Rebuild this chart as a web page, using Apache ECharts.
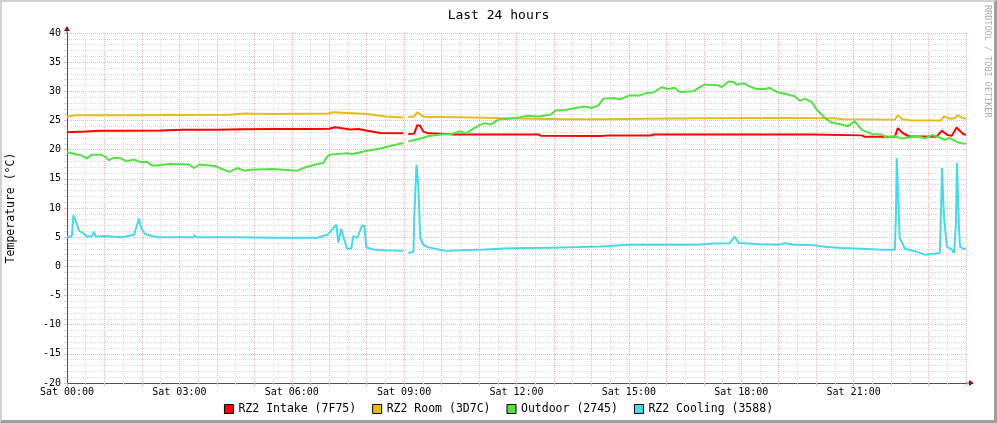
<!DOCTYPE html>
<html>
<head>
<meta charset="utf-8">
<script src="https://cdn.jsdelivr.net/npm/echarts@6/dist/echarts.min.js"></script>
<style>
html,body{margin:0;padding:0;background:#fff;}
#wrap{position:relative;width:997px;height:423px;}
#chart{position:absolute;left:0;top:0;width:997px;height:423px;}
#frame{position:absolute;left:0;top:0;width:997px;height:423px;box-sizing:border-box;
  border-top:2px solid #d2d2d2;border-left:2px solid #d2d2d2;border-right:3px solid #9e9e9e;border-bottom:3px solid #9e9e9e;pointer-events:none;}
</style>
</head>
<body>
<div id="wrap"><div id="chart"></div><div id="frame"></div></div>
<script>
// ---- data (hour of day, value in °C) ----
const seriesNames = ['RZ2 Intake (7F75)', 'RZ2 Room (3D7C)', 'Outdoor (2745)', 'RZ2 Cooling (3588)'];
const seriesColors = ['#FF0000', '#E8BA1E', '#55E044', '#48D8E8'];
const yTicks = { min: -20, max: 40, step: 5 };
const xHours = { min: 0, max: 24, labelEvery: 3 };
const dayLabel = 'Sat';
const yAxisTitle = 'Temperature (°C)';

const intake = [[0,23.0],[0.5,23.1],[0.9,23.25],[1.5,23.25],[2.5,23.3],[3.1,23.4],[4.0,23.4],[4.7,23.5],[5.5,23.55],[6.5,23.55],[7.0,23.6],[7.16,23.85],[7.3,23.7],[7.56,23.45],[7.78,23.55],[8.02,23.25],[8.36,22.85],[8.98,22.8],[9.04,'-'],[9.11,22.7],[9.27,22.75],[9.35,24.2],[9.43,24.1],[9.51,23.1],[9.65,22.8],[10.0,22.75],[10.3,22.6],[12.59,22.6],[12.65,22.4],[14.24,22.35],[14.5,22.45],[15.6,22.45],[15.66,22.6],[19.9,22.6],[19.95,22.45],[21.22,22.45],[21.3,22.2],[22.1,22.2],[22.18,23.7],[22.3,22.9],[22.47,22.3],[23.2,22.2],[23.36,23.25],[23.5,22.5],[23.62,22.4],[23.75,23.8],[23.84,23.2],[23.94,22.6],[24.0,22.6]];

const room = [[0,25.6],[0.2,25.9],[1.5,25.9],[4.36,26.0],[4.73,26.2],[5.5,26.1],[6.97,26.2],[7.1,26.4],[7.5,26.3],[8.02,26.1],[8.5,25.7],[8.98,25.5],[9.04,'-'],[9.11,25.6],[9.27,25.7],[9.35,26.4],[9.45,26.0],[9.51,25.7],[9.65,25.6],[10.0,25.6],[10.5,25.55],[12.0,25.35],[13.3,25.2],[14.24,25.2],[15.5,25.3],[17.0,25.4],[19.0,25.45],[20.5,25.4],[20.7,25.2],[22.1,25.15],[22.18,25.9],[22.3,25.2],[22.5,25.05],[23.33,25.0],[23.41,25.7],[23.57,25.3],[23.7,25.4],[23.78,25.9],[23.9,25.45],[24.0,25.3]];

const outdoor = [[0,19.6],[0.21,19.25],[0.4,19.0],[0.53,18.5],[0.67,19.15],[0.9,19.15],[1.02,18.8],[1.12,18.2],[1.25,18.6],[1.42,18.55],[1.6,18.0],[1.79,18.3],[1.95,17.9],[2.14,17.9],[2.27,17.3],[2.4,17.3],[2.73,17.55],[3.26,17.45],[3.39,16.85],[3.53,17.45],[3.95,17.2],[4.33,16.2],[4.54,16.85],[4.73,16.4],[4.89,16.55],[5.5,16.7],[6.15,16.4],[6.31,16.85],[6.68,17.55],[6.84,17.7],[6.95,18.85],[7.03,19.15],[7.48,19.4],[7.62,19.25],[8.02,19.8],[8.36,20.2],[8.71,20.75],[8.98,21.15],[9.04,'-'],[9.11,21.4],[9.49,22.0],[9.65,22.35],[9.99,22.6],[10.26,22.7],[10.5,23.15],[10.66,22.8],[10.85,23.6],[11.04,24.3],[11.17,24.55],[11.3,24.3],[11.52,25.15],[11.79,25.3],[12.05,25.5],[12.32,25.8],[12.59,25.7],[12.91,26.0],[13.04,26.7],[13.31,26.8],[13.58,27.15],[13.84,27.4],[14.0,27.15],[14.19,27.6],[14.32,28.75],[14.59,28.85],[14.75,28.6],[15.02,29.3],[15.29,29.3],[15.47,29.7],[15.66,29.8],[15.87,30.7],[16.06,30.4],[16.22,30.6],[16.36,29.9],[16.73,30.0],[16.86,30.6],[17.02,31.15],[17.34,31.1],[17.48,30.75],[17.66,31.7],[17.8,31.6],[17.88,31.15],[18.06,31.4],[18.28,30.7],[18.41,30.4],[18.63,30.4],[18.76,30.6],[18.89,30.1],[19.0,29.8],[19.16,29.6],[19.43,29.15],[19.56,28.4],[19.7,28.7],[19.88,28.2],[20.02,26.85],[20.23,25.45],[20.42,24.6],[20.68,24.3],[20.84,24.0],[21.03,24.85],[21.22,23.4],[21.49,22.7],[21.75,22.6],[21.89,22.1],[22.1,22.3],[22.29,21.9],[22.45,22.1],[22.71,22.3],[22.9,21.95],[23.09,22.5],[23.25,22.2],[23.44,21.7],[23.57,22.0],[23.7,21.5],[23.84,21.15],[24.0,21.0]];

const cooling = [[0,5.0],[0.13,5.2],[0.17,8.75],[0.24,7.7],[0.32,6.1],[0.45,5.6],[0.53,5.1],[0.67,5.2],[0.72,5.9],[0.77,5.1],[1.0,5.2],[1.47,5.0],[1.79,5.4],[1.84,6.45],[1.92,8.2],[1.98,6.6],[2.08,5.55],[2.27,5.2],[2.46,4.97],[3.37,4.97],[3.4,5.4],[3.45,4.97],[3.71,4.97],[3.75,5.3],[3.8,4.97],[4.36,4.97],[4.4,5.3],[4.45,4.97],[5.5,4.9],[6.68,4.9],[6.95,5.4],[7.08,6.3],[7.19,7.15],[7.24,4.1],[7.32,6.4],[7.38,5.0],[7.48,3.0],[7.59,3.05],[7.64,5.15],[7.75,4.9],[7.88,7.05],[7.94,6.9],[7.99,3.25],[8.18,2.9],[8.44,2.75],[8.98,2.65],[9.04,'-'],[9.11,2.3],[9.25,2.5],[9.27,8.3],[9.33,17.45],[9.38,13.7],[9.43,4.9],[9.51,3.7],[9.65,3.25],[9.99,2.8],[10.1,2.65],[10.53,2.75],[11.17,2.9],[11.7,3.05],[12.24,3.15],[12.93,3.2],[13.66,3.3],[14.24,3.4],[15.02,3.7],[15.93,3.7],[16.81,3.7],[17.26,3.9],[17.69,3.95],[17.82,5.1],[17.93,4.0],[18.23,3.9],[18.49,3.8],[19.0,3.7],[19.16,3.95],[19.43,3.7],[19.96,3.6],[20.23,3.35],[20.68,3.15],[21.22,3.0],[21.75,2.85],[22.1,2.85],[22.13,8.85],[22.15,18.6],[22.21,8.85],[22.23,4.85],[22.37,3.0],[22.63,2.6],[22.9,2.0],[23.3,2.3],[23.33,8.85],[23.36,16.85],[23.41,8.6],[23.49,3.4],[23.62,2.85],[23.68,2.3],[23.73,7.0],[23.76,17.7],[23.81,7.0],[23.84,3.4],[23.92,3.0],[24.0,3.0]];

const seriesData = [intake, room, outdoor, cooling];

// ---- chart ----
const FONT = 'DejaVu Sans Mono';
const MAJOR = '#F0B4B4';
const MINOR = '#DCDCDC';
const chart = echarts.init(document.getElementById('chart'), null, {renderer: 'canvas'});

function pad(n){ return (n < 10 ? '0' : '') + n; }

const option = {
  animation: false,
  backgroundColor: '#ffffff',
  title: {
    text: 'Last 24 hours', left: 'center', top: 4,
    textStyle: { fontFamily: FONT, fontSize: 13, fontWeight: 'normal', color: '#000' }
  },
  legend: {
    data: seriesNames, bottom: 3, left: 'center',
    icon: 'rect', itemWidth: 9, itemHeight: 9, itemGap: 16,
    selectedMode: false,
    itemStyle: { borderColor: '#000', borderWidth: 1 },
    textStyle: { fontFamily: FONT, fontSize: 11.5, color: '#000' }
  },
  grid: { left: 67, right: 31, top: 33, bottom: 40, containLabel: false, outerBoundsMode: 'none' },
  xAxis: {
    type: 'value', min: xHours.min, max: xHours.max, interval: 1,
    axisLine: { show: true, onZero: false, lineStyle: { color: '#505050', width: 1 } },
    axisTick: { show: true, length: 3, lineStyle: { color: MAJOR } },
    minorTick: { show: true, splitNumber: 2, length: 2, lineStyle: { color: MINOR } },
    splitLine: { show: true, lineStyle: { color: MAJOR, type: [1, 1], width: 1 } },
    minorSplitLine: { show: true, lineStyle: { color: MINOR, type: [1, 1], width: 1 } },
    axisLabel: {
      fontFamily: FONT, fontSize: 10, color: '#000', margin: 4, showMaxLabel: false,
      formatter: function (v) { return (v % xHours.labelEvery === 0 && v < 24) ? dayLabel + ' ' + pad(v) + ':00' : ''; }
    }
  },
  yAxis: {
    type: 'value', min: yTicks.min, max: yTicks.max, interval: yTicks.step,
    axisLine: { show: true, onZero: false, lineStyle: { color: '#505050', width: 1 } },
    axisTick: { show: true, length: 3, lineStyle: { color: MAJOR } },
    minorTick: { show: true, splitNumber: 5, length: 3, lineStyle: { color: MINOR } },
    splitLine: { show: true, lineStyle: { color: MAJOR, type: [1, 1], width: 1 } },
    minorSplitLine: { show: true, lineStyle: { color: MINOR, type: [1, 1], width: 1 } },
    axisLabel: { fontFamily: FONT, fontSize: 10, color: '#000', margin: 6 }
  },
  series: seriesData.map(function (d, i) {
    return {
      name: seriesNames[i], type: 'line', data: d, showSymbol: false, symbol: 'none',
      connectNulls: false, color: seriesColors[i],
      lineStyle: { color: seriesColors[i], width: 2 }, z: 3 + i
    };
  })
};
chart.setOption(option);

// axis arrows and axis title placed via the chart's own scales
const topPt = chart.convertToPixel({gridIndex: 0}, [xHours.min, yTicks.max]);
const botPt = chart.convertToPixel({gridIndex: 0}, [xHours.min, yTicks.min]);
const rightPt = chart.convertToPixel({gridIndex: 0}, [xHours.max, yTicks.min]);
const AR = '#7A1A1A';
chart.setOption({
  graphic: [
    { type: 'line', shape: { x1: topPt[0], y1: topPt[1], x2: topPt[0], y2: topPt[1] - 3 }, style: { stroke: '#505050', lineWidth: 1 }, z: 50 },
    { type: 'polygon', shape: { points: [[topPt[0] - 3, topPt[1] - 2], [topPt[0] + 3, topPt[1] - 2], [topPt[0], topPt[1] - 7]] }, style: { fill: AR }, z: 51 },
    { type: 'line', shape: { x1: rightPt[0], y1: rightPt[1], x2: rightPt[0] + 4, y2: rightPt[1] }, style: { stroke: '#505050', lineWidth: 1 }, z: 50 },
    { type: 'polygon', shape: { points: [[rightPt[0] + 3, rightPt[1] - 3], [rightPt[0] + 3, rightPt[1] + 3], [rightPt[0] + 8, rightPt[1]]] }, style: { fill: AR }, z: 51 },
    { type: 'text', x: topPt[0] - 56, y: (topPt[1] + botPt[1]) / 2, rotation: Math.PI / 2,
      style: { text: yAxisTitle, fontFamily: FONT, fontSize: 11.5, fill: '#000', align: 'center', verticalAlign: 'middle' }, z: 50 },
    { type: 'text', x: 987, y: 5, rotation: -Math.PI / 2,
      style: { text: 'RRDTOOL / TOBI OETIKER', fontFamily: FONT, fontSize: 8.5, fill: '#ADADAD', align: 'left', verticalAlign: 'middle' }, z: 50 }
  ]
});
</script>
</body>
</html>
